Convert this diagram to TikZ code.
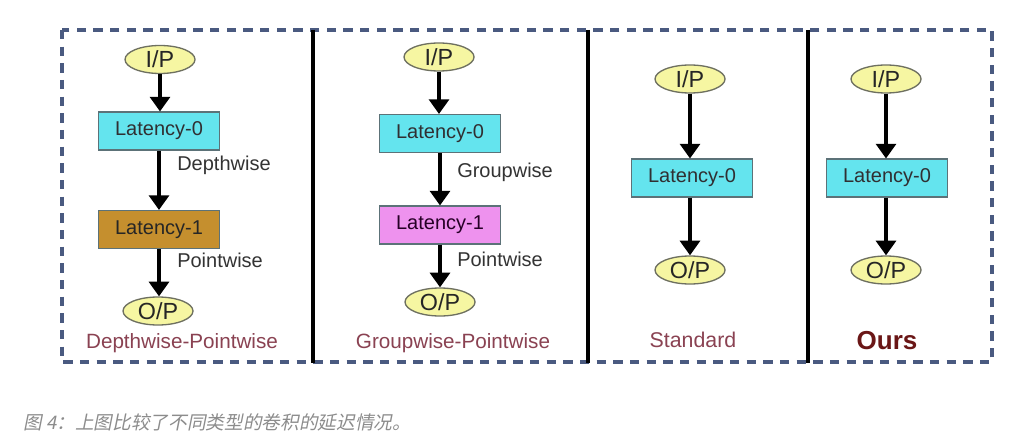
\documentclass[tikz,border=0pt]{standalone}
\usepackage{fontspec}
\setmainfont{Liberation Sans}
\newfontfamily\cjkfont[FakeSlant=0.2]{Noto Sans CJK SC}
\usetikzlibrary{shapes.geometric,arrows.meta}
\definecolor{dashblue}{HTML}{4A5A80}
\definecolor{iofill}{HTML}{F6F6A2}
\definecolor{ioline}{HTML}{6E7060}
\definecolor{cyanbox}{HTML}{64E4EE}
\definecolor{brownbox}{HTML}{C58F2E}
\definecolor{pinkbox}{HTML}{EE92EE}
\definecolor{boxline}{HTML}{5C7278}
\definecolor{labgray}{HTML}{333333}
\definecolor{capred}{HTML}{8A4252}
\definecolor{oursred}{HTML}{6A1616}
\definecolor{captiongray}{HTML}{8C8C8C}
\tikzset{
  iobox/.style={ellipse, draw=ioline, line width=1pt, fill=iofill, inner sep=0pt,
    minimum width=52.5pt, minimum height=21pt, text height=12.5pt, text depth=0pt,
    font=\fontsize{17.5}{17.5}\selectfont, text=black!85},
  latbox/.style={rectangle, draw=boxline, line width=0.8pt, inner sep=0pt,
    minimum width=90.75pt, minimum height=28.5pt, font=\fontsize{15}{15}\selectfont},
  lat0/.style={latbox, fill=cyanbox, text=black!80!cyan!40!black},
  lat1b/.style={latbox, fill=brownbox, text=black!85},
  lat1p/.style={latbox, fill=pinkbox, text=black!70!violet},
  oplabel/.style={anchor=west, inner sep=0pt, text=labgray, font=\fontsize{15}{15}\selectfont},
  paneltitle/.style={inner sep=0pt, text=capred, font=\fontsize{15.5}{15.5}\selectfont},
  flow/.style={-{Triangle[width=15pt,length=11pt]}, line width=2.4pt, black},
  divider/.style={line width=2.3pt, black},
  borderdash/.style={line width=2.6pt, dashblue, dash pattern=on 7pt off 5.5pt}
}
\begin{document}
\begin{tikzpicture}[x=0.75pt,y=-0.75pt]
\useasboundingbox (0,0) rectangle (1013,442);
\fill[white] (0,0) rectangle (1013,442);
% frame
\draw[borderdash] (62,30) rectangle (992,362);
\draw[divider] (313,30) -- (313,363);
\draw[divider] (588,30) -- (588,363);
\draw[divider] (808,30) -- (808,363);
% panel 1
\node[iobox] (ip1) at (160,59.5) {I/P};
\node[lat0] (l01) at (159,131) {Latency-0};
\node[lat1b] (l11) at (159,229.5) {Latency-1};
\node[iobox] (op1) at (158,311) {O/P};
\draw[flow] (ip1 |- ip1.south) -- (ip1 |- l01.north);
\draw[flow] (l01) -- (l11);
\draw[flow] (l11 |- l11.south) -- (l11 |- op1.north);
\node[oplabel] (dw) at (177,165) {Depthwise};
\node[oplabel] (pw1) at (177,260) {Pointwise};
\node[paneltitle] (t1) at (182,343) {Depthwise-Pointwise};
% panel 2
\node[iobox] (ip2) at (439,57) {I/P};
\node[lat0] (l02) at (440,133.5) {Latency-0};
\node[lat1p] (l12) at (440,225) {Latency-1};
\node[iobox] (op2) at (440,302) {O/P};
\draw[flow] (ip2 |- ip2.south) -- (ip2 |- l02.north);
\draw[flow] (l02) -- (l12);
\draw[flow] (l12) -- (op2);
\node[oplabel] (gw) at (457,172) {Groupwise};
\node[oplabel] (pw2) at (457,259) {Pointwise};
\node[paneltitle] (t2) at (453,343) {Groupwise-Pointwise};
% panel 3
\node[iobox] (ip3) at (690,79) {I/P};
\node[lat0] (l03) at (692,178) {Latency-0};
\node[iobox] (op3) at (690,270) {O/P};
\draw[flow] (ip3 |- ip3.south) -- (ip3 |- l03.north);
\draw[flow] (op3 |- l03.south) -- (op3);
\node[paneltitle, font=\fontsize{16}{16}\selectfont] (t3) at (693,340) {Standard};
% panel 4
\node[iobox] (ip4) at (886,79) {I/P};
\node[lat0] (l04) at (887,178) {Latency-0};
\node[iobox] (op4) at (886,270) {O/P};
\draw[flow] (ip4 |- ip4.south) -- (ip4 |- l04.north);
\draw[flow] (op4 |- l04.south) -- (op4);
\node[inner sep=0pt, text=oursred, font=\fontsize{19.5}{19.5}\selectfont\bfseries] (t4) at (887,341) {Ours};
% caption
\node[anchor=west, inner sep=0pt, text=captiongray, font=\cjkfont\fontsize{14}{14}\selectfont] (cap) at (23,422) {图 4：上图比较了不同类型的卷积的延迟情况。};
\end{tikzpicture}
\end{document}
